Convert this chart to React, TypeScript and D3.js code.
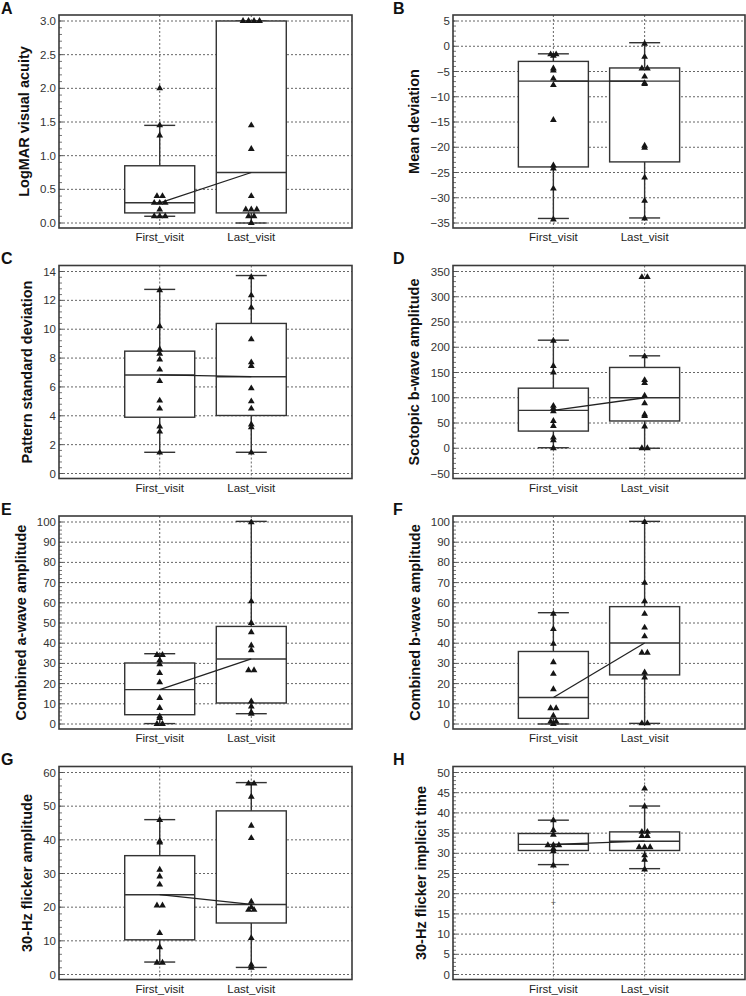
import React from 'react';
import * as d3 from 'd3';

const categories = ['First_visit', 'Last_visit'];
const panelLetters = ['A', 'B', 'C', 'D', 'E', 'F', 'G', 'H'];
const yTitles = [
  'LogMAR visual acuity',
  'Mean deviation',
  'Pattern standard deviation',
  'Scotopic b-wave amplitude',
  'Combined a-wave amplitude',
  'Combined b-wave amplitude',
  '30-Hz flicker amplitude',
  '30-Hz flicker implicit time',
];
// [min, max, step] of the y ticks
const tickRanges = [
  [0, 3, 0.5],
  [-35, 5, 5],
  [0, 14, 2],
  [-50, 350, 50],
  [0, 100, 10],
  [0, 100, 10],
  [0, 60, 10],
  [0, 50, 5],
];

// box stats: [whisker low, q1, median, q3, whisker high]
const acuityBoxFirst = [0.1, 0.15, 0.3, 0.85, 1.45];
const acuityBoxLast = [0.0, 0.15, 0.75, 3.0, 3.0];
const acuityFirst = [2.0, 1.45, 1.3, 0.4, 0.4, 0.3, 0.3, 0.3, 0.2, 0.1, 0.1, 0.1];
const acuityLast = [3.0, 3.0, 3.0, 3.0, 1.45, 1.1, 0.4, 0.2, 0.2, 0.2, 0.1, 0.1, 0.0];

const mdBoxFirst = [-34.1, -23.9, -6.9, -3.0, -1.5];
const mdBoxLast = [-34.0, -22.9, -6.9, -4.3, 0.7];
const mdFirst = [-1.6, -1.6, -1.9, -4.4, -4.8, -6.4, -7.7, -14.6, -23.6, -24.2, -28.2, -34.3];
const mdLast = [0.5, -2.1, -4.4, -4.4, -6.0, -7.3, -7.5, -19.7, -20.1, -26.0, -30.6, -34.1];

const psdBoxFirst = [1.47, 3.9, 6.83, 8.48, 12.76];
const psdBoxLast = [1.47, 4.02, 6.71, 10.4, 13.72];
const psdFirst = [12.7, 10.2, 8.6, 8.3, 7.9, 7.2, 6.4, 5.05, 4.5, 3.25, 2.9, 1.45];
const psdLast = [13.6, 12.35, 11.5, 9.3, 7.7, 7.45, 5.9, 5.0, 4.5, 3.4, 3.2, 1.45];

const scotBoxFirst = [1, 34, 75, 119, 214];
const scotBoxLast = [0, 54, 100, 160, 183];
const scotFirst = [213, 163, 150, 84, 79, 73, 54, 44, 21, 16, 0];
const scotLast = [339, 339, 182, 135, 129, 104, 89, 67, 64, 43, 0, 0];

const aWaveBoxFirst = [0.2, 4.6, 17, 30.2, 34.8];
const aWaveBoxLast = [5.1, 10.4, 32.2, 48.3, 100.3];
const aWaveFirst = [34.2, 34.2, 31.5, 29.5, 25.2, 20.6, 12.9, 7.9, 3.8, 3.0, 0, 0];
const aWaveLast = [99.8, 60.7, 50, 45.4, 38.9, 36.5, 26.6, 26.6, 11.2, 8.7, 5.8, 5.0];

const bWaveBoxFirst = [0, 2.8, 13.1, 35.9, 55.1];
const bWaveBoxLast = [0.3, 24.3, 40.1, 58.1, 100.3];
const bWaveFirst = [54.6, 47, 39.7, 30.6, 24.8, 17.2, 7.8, 7.8, 4.1, 1.2, 1.2, 0];
const bWaveLast = [100, 69.9, 60.8, 54.5, 47.7, 43.4, 35.3, 35.3, 25.5, 23, 0.3, 0.3];

const flickAmpBoxFirst = [3.7, 10.3, 23.7, 35.3, 46.0];
const flickAmpBoxLast = [2.1, 15.3, 20.8, 48.6, 57.0];
const flickAmpFirst = [45.9, 39.6, 39.2, 31.1, 29.1, 26.7, 20.5, 20.5, 12.3, 8.1, 3.5, 3.5];
const flickAmpLast = [56.7, 56.7, 52.8, 44.2, 40.5, 21.6, 20.0, 19.2, 19.2, 10.8, 2.9, 2.0];

const flickTimeBoxFirst = [27.2, 30.7, 32.2, 34.9, 38.2];
const flickTimeBoxLast = [26.2, 30.7, 33.0, 35.3, 41.7];
const flickTimeFirst = [38.2, 35.7, 34.6, 32, 32, 32, 31.1, 30.5, 27];
const flickTimeLast = [46, 41.6, 35.3, 35.3, 34.3, 34.3, 31.5, 31.5, 31.5, 29.5, 28.4, 26];
const flickTimeOutFirst = [17.7];

const panels = [
  { first: acuityFirst, last: acuityLast, boxFirst: acuityBoxFirst, boxLast: acuityBoxLast, out: [] as number[] },
  { first: mdFirst, last: mdLast, boxFirst: mdBoxFirst, boxLast: mdBoxLast, out: [] as number[] },
  { first: psdFirst, last: psdLast, boxFirst: psdBoxFirst, boxLast: psdBoxLast, out: [] as number[] },
  { first: scotFirst, last: scotLast, boxFirst: scotBoxFirst, boxLast: scotBoxLast, out: [] as number[] },
  { first: aWaveFirst, last: aWaveLast, boxFirst: aWaveBoxFirst, boxLast: aWaveBoxLast, out: [] as number[] },
  { first: bWaveFirst, last: bWaveLast, boxFirst: bWaveBoxFirst, boxLast: bWaveBoxLast, out: [] as number[] },
  { first: flickAmpFirst, last: flickAmpLast, boxFirst: flickAmpBoxFirst, boxLast: flickAmpBoxLast, out: [] as number[] },
  { first: flickTimeFirst, last: flickTimeLast, boxFirst: flickTimeBoxFirst, boxLast: flickTimeBoxLast, out: flickTimeOutFirst },
];

const FONT = 'Liberation Sans, Arial, sans-serif';
const frameLeft = [59, 453];
const frameWidth = [293, 292];
const rowTop = [15, 265.5, 516, 766.5];
const frameHeight = 213;
const boxHalf = 35;
const capHalf = 15.5;
const tickFont = 11.5;

const triangle = d3.symbol(d3.symbolTriangle, 20)() || '';

// spread identical values side by side
const spread = (values: number[]): number[] => {
  const totals = new Map<number, number>();
  values.forEach((v) => totals.set(v, (totals.get(v) || 0) + 1));
  const seen = new Map<number, number>();
  return values.map((v) => {
    const k = seen.get(v) || 0;
    seen.set(v, k + 1);
    const n = totals.get(v) || 1;
    return (k - (n - 1) / 2) * 5.5;
  });
};

const labelWidth = (s: string): number =>
  s.split('').reduce((w, c) => w + (c === '.' ? 0.278 : c === '\u2212' ? 0.584 : 0.556), 0) * tickFont;

const Panel: React.FC<{ idx: number }> = ({ idx }) => {
  const col = idx % 2;
  const row = Math.floor(idx / 2);
  const fx = frameLeft[col];
  const fw = frameWidth[col];
  const fy = rowTop[row];
  const fh = frameHeight;
  const [min, max, step] = tickRanges[idx];
  const p = panels[idx];

  const x = d3.scalePoint<string>().domain(categories).range([fx, fx + fw]).padding(1.1);
  const y = d3.scaleLinear().domain([min, max]).range([fy + fh - 5, fy + 6]);

  const ticks = d3.range(min, max + step / 2, step);
  const minor = d3.range(min, max, step / 5).filter((_, i) => i % 5 !== 0);
  const fmt = idx === 0 ? d3.format('.1f') : (v: number) => (v < 0 ? '\u2212' + Math.abs(v) : String(v));
  const maxLabel = d3.max(ticks, (t) => labelWidth(fmt(t))) || 0;
  const titleX = fx - 3 - maxLabel - 11;

  const groups = [
    { cat: categories[0], pts: p.first, box: p.boxFirst },
    { cat: categories[1], pts: p.last, box: p.boxLast },
  ];
  const cx0 = x(categories[0]) || 0;
  const cx1 = x(categories[1]) || 0;

  return (
    <g>
      <text x={col === 0 ? 1 : 393} y={fy - 1.5} fontFamily={FONT} fontWeight="bold" fontSize={16} fill="#111">
        {panelLetters[idx]}
      </text>
      <text
        transform={`translate(${titleX},${fy + fh / 2}) rotate(-90)`}
        textAnchor="middle"
        fontFamily={FONT}
        fontWeight="bold"
        fontSize={14.5}
        fill="#111"
      >
        {yTitles[idx]}
      </text>

      {/* grid */}
      {ticks.map((t) => (
        <line key={'g' + t} x1={fx} x2={fx + fw} y1={y(t)} y2={y(t)} stroke="#666" strokeWidth={1} strokeDasharray="2,2" />
      ))}
      {categories.map((c) => (
        <line key={'v' + c} x1={x(c)} x2={x(c)} y1={fy} y2={fy + fh} stroke="#666" strokeWidth={1} strokeDasharray="2,2" />
      ))}

      {/* y tick labels and minor ticks */}
      {ticks.map((t) => (
        <text key={'t' + t} x={fx - 3} y={y(t)} dy="0.35em" textAnchor="end" fontFamily={FONT} fontSize={tickFont} fill="#333">
          {fmt(t)}
        </text>
      ))}
      {ticks.map((t) => (
        <line key={'mt' + t} x1={fx} x2={fx + 4} y1={y(t)} y2={y(t)} stroke="#555" strokeWidth={1} />
      ))}
      {minor.map((t, i) => (
        <line key={'m' + i} x1={fx} x2={fx + 3} y1={y(t)} y2={y(t)} stroke="#777" strokeWidth={1} />
      ))}

      {/* x labels */}
      {categories.map((c) => (
        <text key={'x' + c} x={x(c)} y={fy + fh + 13} textAnchor="middle" fontFamily={FONT} fontSize={tickFont} fill="#222">
          {c}
        </text>
      ))}

      {/* boxes */}
      {groups.map((g) => {
        const cx = x(g.cat) || 0;
        const [wLo, q1, med, q3, wHi] = g.box;
        return (
          <g key={'b' + g.cat} stroke="#333" strokeWidth={1.4}>
            <line x1={cx} x2={cx} y1={y(q3)} y2={y(wHi)} />
            <line x1={cx} x2={cx} y1={y(q1)} y2={y(wLo)} />
            <line x1={cx - capHalf} x2={cx + capHalf} y1={y(wHi)} y2={y(wHi)} />
            <line x1={cx - capHalf} x2={cx + capHalf} y1={y(wLo)} y2={y(wLo)} />
            <rect x={cx - boxHalf} width={boxHalf * 2} y={y(q3)} height={y(q1) - y(q3)} fill="#fff" />
            <line x1={cx - boxHalf} x2={cx + boxHalf} y1={y(med)} y2={y(med)} />
          </g>
        );
      })}

      {/* line between medians */}
      <line x1={cx0} x2={cx1} y1={y(p.boxFirst[2])} y2={y(p.boxLast[2])} stroke="#222" strokeWidth={1.3} />

      {/* points */}
      {groups.map((g) => {
        const cx = x(g.cat) || 0;
        const offs = spread(g.pts);
        return g.pts.map((v, i) => (
          <path key={'p' + g.cat + i} d={triangle} transform={`translate(${cx + offs[i]},${y(v)})`} fill="#151515" />
        ));
      })}
      {p.out.map((v, i) => (
        <text key={'o' + i} x={cx0} y={y(v)} dy="0.35em" textAnchor="middle" fontFamily={FONT} fontSize={9} fill="#555">
          +
        </text>
      ))}

      <rect x={fx} y={fy} width={fw} height={fh} fill="none" stroke="#3a3a3a" strokeWidth={1.6} />
    </g>
  );
};

export default function App() {
  return (
    <svg width={746} height={996} style={{ position: 'absolute', left: 0, top: 0, background: '#fff' }}>
      {panels.map((_, i) => (
        <Panel key={i} idx={i} />
      ))}
    </svg>
  );
}
